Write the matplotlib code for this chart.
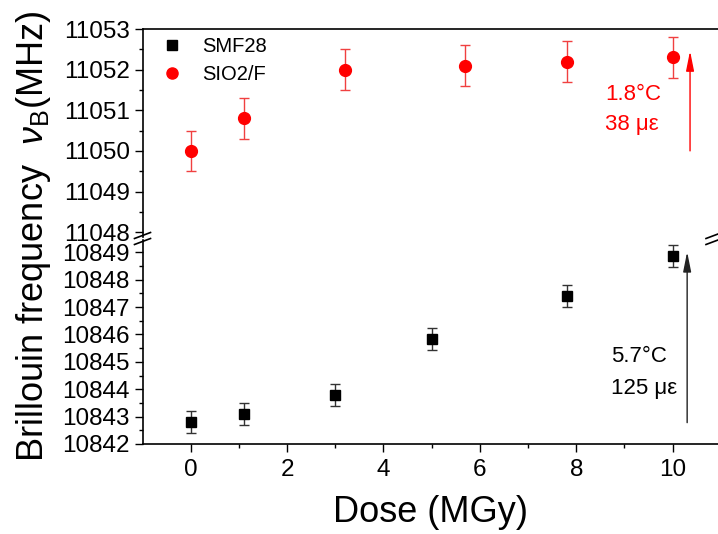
import matplotlib
matplotlib.use("Agg")
import matplotlib.pyplot as plt
from matplotlib.lines import Line2D
import numpy as np

plt.rcParams['font.family'] = ['Liberation Sans', 'DejaVu Sans']
plt.rcParams['mathtext.fontset'] = 'custom'
plt.rcParams['mathtext.rm'] = 'Liberation Sans'
plt.rcParams['mathtext.it'] = 'Liberation Sans:italic'

# Data
dose_smf = [0.0, 1.1, 3.0, 5.0, 7.8, 10.0]
bfs_smf = [10842.8, 10843.1, 10843.8, 10845.85, 10847.4, 10848.85]
err_smf = [0.4, 0.4, 0.4, 0.4, 0.4, 0.4]

dose_sio2 = [0.0, 1.1, 3.2, 5.7, 7.8, 10.0]
bfs_sio2 = [11050.0, 11050.8, 11052.0, 11052.1, 11052.2, 11052.3]
err_sio2 = [0.5, 0.5, 0.5, 0.5, 0.5, 0.5]

xticks = [0, 2, 4, 6, 8, 10]
top_yticks = [11048, 11049, 11050, 11051, 11052, 11053]
bot_yticks = [10842, 10843, 10844, 10845, 10846, 10847, 10848, 10849]

W, H = 718, 534
fig = plt.figure(figsize=(W / 100, H / 100), dpi=100)

left = 142.5 / W
right = 1.0
ax_top = fig.add_axes([left, 1 - 237 / H, right - left, (237 - 29) / H])
ax_bot = fig.add_axes([left, 1 - 444 / H, right - left, (444 - 240) / H])

xlim = (-1.0, 10.94)
for ax in (ax_top, ax_bot):
    ax.set_xlim(*xlim)
    ax.spines['right'].set_visible(False)
    for sp in ax.spines.values():
        sp.set_linewidth(1.2)
    ax.tick_params(axis='both', which='major', direction='out', length=6, width=1.0,
                   labelsize=17.5)
    ax.tick_params(axis='both', which='minor', direction='out', length=3, width=1.0)

ax_top.set_ylim(11047.88, 11053)
ax_bot.set_ylim(10842, 10849.45)
ax_top.spines['bottom'].set_visible(False)
ax_bot.spines['top'].set_visible(False)
ax_top.tick_params(axis='x', which='both', bottom=False, labelbottom=False)
ax_top.set_yticks(top_yticks)
ax_top.set_yticks(np.arange(11048.5, 11053, 1.0), minor=True)
ax_bot.set_yticks(bot_yticks)
ax_bot.set_yticks(np.arange(10842.5, 10849.5, 1.0), minor=True)
ax_bot.set_xticks(xticks)
ax_bot.set_xticks([1, 3, 5, 7, 9], minor=True)
for ax in (ax_top, ax_bot):
    ax.yaxis.set_major_formatter(matplotlib.ticker.FormatStrFormatter('%d'))
ax_bot.tick_params(axis='y', pad=3)
ax_top.tick_params(axis='y', pad=3)
ax_bot.tick_params(axis='x', pad=5)

# SIO2/F
ax_top.errorbar(dose_sio2, bfs_sio2, yerr=err_sio2, fmt='o', color='#ff0000', ms=8.5,
                ecolor='#f04040', elinewidth=1.0, capsize=3.5, capthick=1.0, zorder=3)
# SMF28
ax_bot.errorbar(dose_smf, bfs_smf, yerr=err_smf, fmt='s', color='black', ms=7.5,
                ecolor='#333333', elinewidth=1.0, capsize=3.5, capthick=1.0, zorder=3)

# arrows
ax_top.annotate('', xy=(10.36, 11052.46), xytext=(10.36, 11050.0),
                arrowprops=dict(arrowstyle='-|>,head_width=0.2,head_length=1.0',
                                color='#ff0000', lw=1.0, mutation_scale=12,
                                shrinkA=0, shrinkB=0))
ax_bot.annotate('', xy=(10.30, 10849.02), xytext=(10.30, 10842.78),
                arrowprops=dict(arrowstyle='-|>,head_width=0.2,head_length=1.0',
                                color='#222222', lw=1.0, mutation_scale=12,
                                shrinkA=0, shrinkB=0))

ax_top.text(8.6, 11051.40, '1.8°C', color='#ff0000', fontsize=16, va='center', ha='left')
ax_top.text(8.6, 11050.66, '38 με', color='#ff0000', fontsize=16, va='center', ha='left')
ax_bot.text(8.72, 10845.18, '5.7°C', color='black', fontsize=16, va='center', ha='left')
ax_bot.text(8.72, 10844.04, '125 με', color='black', fontsize=16, va='center', ha='left')

handles = [Line2D([], [], ls='none', marker='s', color='black', ms=7),
           Line2D([], [], ls='none', marker='o', color='#ff0000', ms=8)]
ax_top.legend(handles, ['SMF28', 'SIO2/F'], loc='upper left', bbox_to_anchor=(0.012, 1.012),
              frameon=False, fontsize=14.5, handlelength=1.2, handletextpad=0.9,
              borderaxespad=0.3, labelspacing=0.45, borderpad=0.2)

ax_bot.set_xlabel('Dose (MGy)', fontsize=26, labelpad=10)
fig.text(34 / W, 1 - 236 / H, r'Brillouin frequency  $\nu_{\mathrm{B}}$(MHz)', rotation=90,
         fontsize=26, ha='center', va='center')

# break marks
for xb in (142.5, 714):
    for dy in (-3, 3):
        yb = 238.5 + dy
        fig.add_artist(Line2D([(xb - 8) / W, (xb + 8) / W], [1 - (yb + 3) / H, 1 - (yb - 3) / H],
                              color='black', lw=1.2, transform=fig.transFigure))

fig.savefig('out.png', dpi=100)
